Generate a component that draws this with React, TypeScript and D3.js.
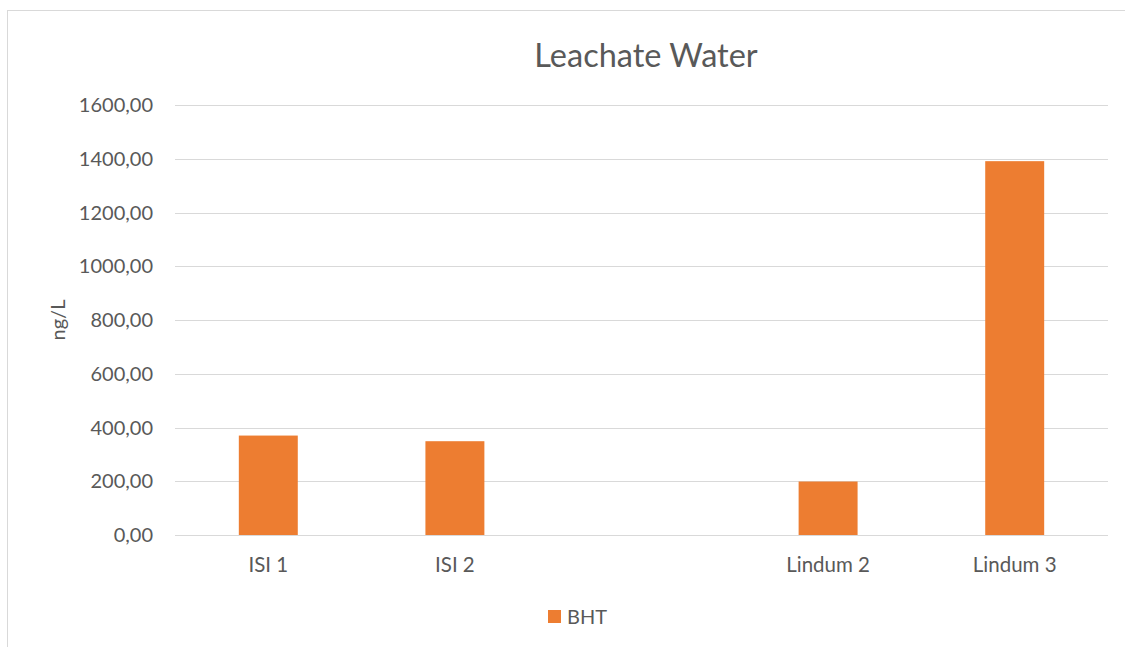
import React, { useEffect, useRef } from 'react';
import * as d3 from 'd3';

const categories = ['ISI 1', 'ISI 2', '', 'Lindum 2', 'Lindum 3'];
const bhtValues = [370, 349, null, 199, 1391];
const yTicks = [0, 200, 400, 600, 800, 1000, 1200, 1400, 1600];
const seriesName = 'BHT';

const W = 1125;
const H = 647;
const FONT = 'Lato, "Open Sans", sans-serif';
const TXT = '#595959';

const App = () => {
  const ref = useRef<SVGSVGElement>(null);

  useEffect(() => {
    const svg = d3.select(ref.current);
    svg.selectAll('*').remove();

    const margin = { top: 105, right: 17, bottom: 112, left: 175 };

    // chart border (right/bottom edges run off the picture)
    svg.append('rect')
      .attr('x', 7.5).attr('y', 10.5)
      .attr('width', W + 20).attr('height', H + 20)
      .attr('fill', '#fff').attr('stroke', '#d9d9d9');

    const x = d3.scaleBand()
      .domain(categories.map((c, i) => String(i)))
      .range([margin.left, W - margin.right])
      .paddingInner(0.684)
      .paddingOuter(0.342);

    const y = d3.scaleLinear()
      .domain([0, 1600])
      .range([H - margin.bottom, margin.top]);

    svg.append('g')
      .selectAll('line')
      .data(yTicks)
      .enter().append('line')
      .attr('x1', margin.left).attr('x2', W - margin.right)
      .attr('y1', d => Math.round(y(d)) + 0.5)
      .attr('y2', d => Math.round(y(d)) + 0.5)
      .attr('stroke', '#d9d9d9').attr('stroke-width', 1);

    svg.append('g')
      .selectAll('text')
      .data(yTicks)
      .enter().append('text')
      .attr('x', 153)
      .attr('y', d => y(d))
      .attr('dy', '0.35em')
      .attr('text-anchor', 'end')
      .attr('font-family', FONT).attr('font-size', 20).attr('fill', TXT)
      .text(d => d3.format('.2f')(d).replace('.', ','));

    svg.append('g')
      .selectAll('rect')
      .data(bhtValues.map((v, i) => ({ v, i })).filter(d => d.v != null))
      .enter().append('rect')
      .attr('x', d => x(String(d.i))!)
      .attr('width', x.bandwidth())
      .attr('y', d => y(d.v as number))
      .attr('height', d => y(0) - y(d.v as number))
      .attr('fill', '#ED7D31');

    svg.append('g')
      .selectAll('text')
      .data(categories)
      .enter().append('text')
      .attr('x', (d, i) => x(String(i))! + x.bandwidth() / 2)
      .attr('y', 572)
      .attr('text-anchor', 'middle')
      .attr('font-family', FONT).attr('font-size', 20.5).attr('fill', TXT)
      .text(d => d);

    svg.append('text')
      .attr('x', 646).attr('y', 67)
      .attr('text-anchor', 'middle')
      .attr('font-family', FONT).attr('font-size', 32.5).attr('fill', TXT)
      .text('Leachate Water');

    svg.append('text')
      .attr('transform', `translate(65,${(y(0) + y(1600)) / 2}) rotate(-90)`)
      .attr('text-anchor', 'middle')
      .attr('font-family', FONT).attr('font-size', 20).attr('fill', TXT)
      .text('ng/L');

    const lg = svg.append('g').attr('transform', 'translate(548,610)');
    lg.append('rect').attr('width', 13).attr('height', 13).attr('fill', '#ED7D31');
    lg.append('text')
      .attr('x', 19).attr('y', 13.5)
      .attr('font-family', FONT).attr('font-size', 20).attr('fill', TXT)
      .text(seriesName);
  }, []);

  return (
    <svg ref={ref} width={W} height={H}
      style={{ position: 'absolute', left: 0, top: 0, background: '#fff' }} />
  );
};

export default App;
